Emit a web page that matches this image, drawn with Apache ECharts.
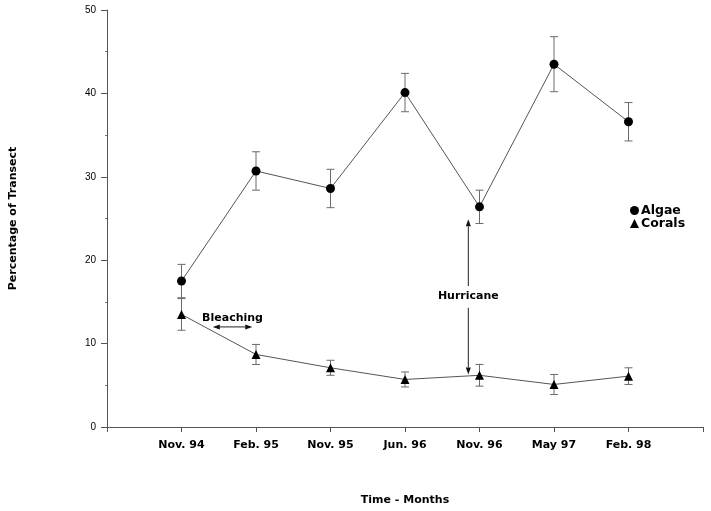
<!DOCTYPE html>
<html><head><meta charset="utf-8">
<script src="https://cdn.jsdelivr.net/npm/echarts@6/dist/echarts.min.js"></script>
<style>html,body{margin:0;padding:0;background:#fff}#c{width:711px;height:511px}</style>
</head><body><div id="c"></div>
<script>
const categories = ['Nov. 94','Feb. 95','Nov. 95','Jun. 96','Nov. 96','May 97','Feb. 98'];
const algae = [17.5, 30.7, 28.6, 40.1, 26.4, 43.5, 36.6];
const algaeErr = [2.0, 2.3, 2.3, 2.3, 2.0, 3.3, 2.3];
const corals = [13.5, 8.7, 7.1, 5.7, 6.2, 5.1, 6.1];
const coralsErr = [1.9, 1.2, 0.9, 0.9, 1.3, 1.2, 1.0];
const yTicks = [0, 10, 20, 30, 40, 50];
// annotations (data coordinates)
const hurricane = {x: 4.85, top: 24.9, bottom: 6.3, gapTop: 16.9, gapBottom: 14.3, labelY: 15.75, text: 'Hurricane'};
const bleaching = {x1: 1.42, x2: 1.95, y: 12.0, labelY: 13.1, text: 'Bleaching'};

const FONT = '"DejaVu Sans", Verdana, sans-serif';
const pts = arr => arr.map((v, i) => [i + 1, v]);
const errData = (vals, errs) => vals.map((v, i) => [i + 1, v - errs[i], v + errs[i]]);

function errRender(params, api) {
  const x = api.value(0);
  const lo = api.coord([x, api.value(1)]);
  const hi = api.coord([x, api.value(2)]);
  const w = 4;
  const st = {stroke: '#6a6a6a', lineWidth: 1};
  return {type: 'group', children: [
    {type: 'line', shape: {x1: lo[0], y1: lo[1], x2: hi[0], y2: hi[1]}, style: st},
    {type: 'line', shape: {x1: lo[0]-w, y1: lo[1], x2: lo[0]+w, y2: lo[1]}, style: st},
    {type: 'line', shape: {x1: hi[0]-w, y1: hi[1], x2: hi[0]+w, y2: hi[1]}, style: st}
  ]};
}

function annRender(params, api) {
  const st = {stroke: '#222', lineWidth: 1};
  const fill = {fill: '#111'};
  const hT = api.coord([hurricane.x, hurricane.top]);
  const hB = api.coord([hurricane.x, hurricane.bottom]);
  const hG1 = api.coord([hurricane.x, hurricane.gapTop]);
  const hG2 = api.coord([hurricane.x, hurricane.gapBottom]);
  const hL = api.coord([hurricane.x, hurricane.labelY]);
  const b1 = api.coord([bleaching.x1, bleaching.y]);
  const b2 = api.coord([bleaching.x2, bleaching.y]);
  const bL = api.coord([(bleaching.x1 + bleaching.x2) / 2, bleaching.labelY]);
  const ah = 7, aw = 2.5;
  const tf = 'bold 11px ' + FONT;
  return {type: 'group', children: [
    {type: 'line', shape: {x1: hT[0], y1: hT[1] + ah, x2: hG1[0], y2: hG1[1]}, style: st},
    {type: 'line', shape: {x1: hG2[0], y1: hG2[1], x2: hB[0], y2: hB[1] - ah}, style: st},
    {type: 'polygon', shape: {points: [[hT[0], hT[1]], [hT[0]-aw, hT[1]+ah], [hT[0]+aw, hT[1]+ah]]}, style: fill},
    {type: 'polygon', shape: {points: [[hB[0], hB[1]], [hB[0]-aw, hB[1]-ah], [hB[0]+aw, hB[1]-ah]]}, style: fill},
    {type: 'text', x: hL[0], y: hL[1], style: {text: hurricane.text, font: tf, fill: '#000', align: 'center', verticalAlign: 'middle'}},
    {type: 'line', shape: {x1: b1[0] + ah, y1: b1[1], x2: b2[0] - ah, y2: b2[1]}, style: st},
    {type: 'polygon', shape: {points: [[b1[0], b1[1]], [b1[0]+ah, b1[1]-aw], [b1[0]+ah, b1[1]+aw]]}, style: fill},
    {type: 'polygon', shape: {points: [[b2[0], b2[1]], [b2[0]-ah, b2[1]-aw], [b2[0]-ah, b2[1]+aw]]}, style: fill},
    {type: 'text', x: bL[0], y: bL[1], style: {text: bleaching.text, font: tf, fill: '#000', align: 'center', verticalAlign: 'middle'}}
  ]};
}

const chart = echarts.init(document.getElementById('c'), null, {renderer: 'canvas'});
chart.setOption({
  animation: false,
  backgroundColor: '#fff',
  grid: {left: 106, right: 8, top: 10, bottom: 82, containLabel: false},
  legend: {
    orient: 'vertical', left: 625, top: 199, itemWidth: 9, itemHeight: 9, itemGap: 0,
    data: [{name: 'Algae', icon: 'circle'}, {name: 'Corals', icon: 'triangle'}],
    textStyle: {fontFamily: FONT, fontWeight: 'bold', fontSize: 12.5, color: '#000', padding: [0, 0, 0, -3]}
  },
  xAxis: {
    type: 'value', min: 0, max: 8, interval: 1,
    name: 'Time - Months', nameLocation: 'middle', nameGap: 68,
    nameTextStyle: {fontFamily: FONT, fontWeight: 'bold', fontSize: 11, color: '#000'},
    axisLine: {lineStyle: {color: '#555', width: 1}},
    axisTick: {show: true, length: 5, lineStyle: {color: '#555'}},
    splitLine: {show: false},
    axisLabel: {
      margin: 13, fontFamily: FONT, fontWeight: 'bold', fontSize: 11, color: '#000',
      formatter: v => (v >= 1 && v <= categories.length) ? categories[v - 1] : ''
    }
  },
  yAxis: {
    type: 'value', min: yTicks[0], max: yTicks[yTicks.length - 1], interval: 10,
    name: 'Percentage of Transect', nameLocation: 'middle', nameGap: 88, nameRotate: 90,
    nameTextStyle: {fontFamily: FONT, fontWeight: 'bold', fontSize: 11, color: '#000'},
    axisLine: {show: true, lineStyle: {color: '#555', width: 1}},
    axisTick: {show: true, length: 6, lineStyle: {color: '#555'}},
    minorTick: {show: true, splitNumber: 2, length: 2, lineStyle: {color: '#777'}},
    splitLine: {show: false},
    axisLabel: {margin: 11, fontFamily: '"Liberation Sans", Arial, sans-serif', fontSize: 10, color: '#000'}
  },
  series: [
    {type: 'custom', name: 'algaeErr', renderItem: errRender, data: errData(algae, algaeErr), z: 1, silent: true},
    {type: 'custom', name: 'coralsErr', renderItem: errRender, data: errData(corals, coralsErr), z: 1, silent: true},
    {type: 'line', name: 'Algae', data: pts(algae), symbol: 'circle', symbolSize: 9,
      itemStyle: {color: '#000'}, lineStyle: {color: '#555', width: 1}, z: 3},
    {type: 'line', name: 'Corals', data: pts(corals), symbol: 'triangle', symbolSize: 9,
      itemStyle: {color: '#000'}, lineStyle: {color: '#555', width: 1}, z: 3},
    {type: 'custom', name: 'annotations', renderItem: annRender, data: [[0, 0]], z: 4, silent: true}
  ]
});
</script></body></html>
